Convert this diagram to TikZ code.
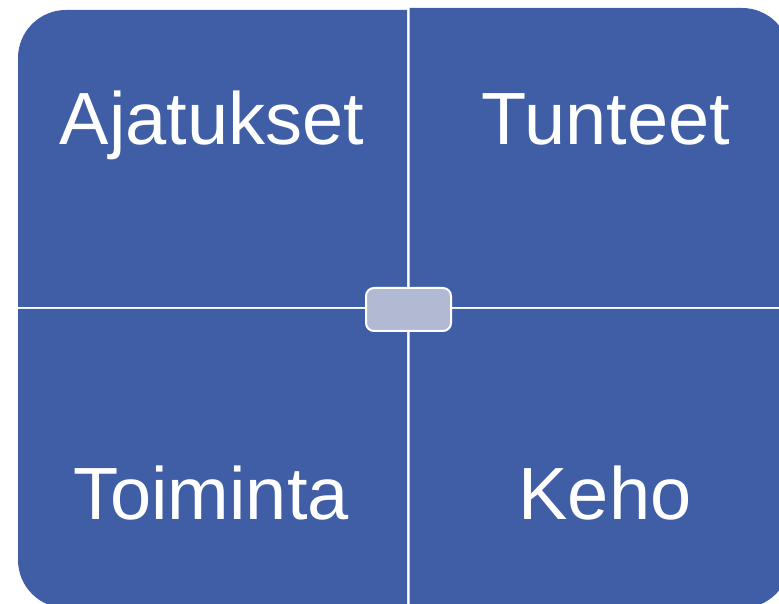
\documentclass[tikz,border=0pt]{standalone}
\usepackage{fontspec}
\setmainfont{Liberation Sans}
\definecolor{quadblue}{RGB}{63,94,166}
\definecolor{hubfill}{RGB}{177,185,211}
\tikzset{
  quad/.style={fill=quadblue},
  lbl/.style={text=white, anchor=base, inner sep=0pt, font=\fontsize{74}{80}\selectfont},
  hub/.style={draw=white, line width=2pt, fill=hubfill, rounded corners=8pt,
              minimum width=85pt, minimum height=43pt, inner sep=0pt}
}
\begin{document}
\begin{tikzpicture}[x=1pt,y=1pt]
\useasboundingbox (0,0) rectangle (779,604);
\clip (0,0) rectangle (779,604);
% quadrants
\fill[quad] (407,297) -- (18,297) -- (18,546) arc[start angle=180,end angle=90,radius=48] -- (407,594) -- cycle;
\fill[quad] (409.5,297) -- (409.5,596) -- (742,596) arc[start angle=90,end angle=0,radius=48] -- (790,297) -- cycle;
\fill[quad] (407,295) -- (18,295) -- (18,44) arc[start angle=180,end angle=270,radius=48] -- (407,-4) -- cycle;
\fill[quad] (409.5,295) -- (409.5,-4) -- (742,-4) arc[start angle=270,end angle=360,radius=48] -- (790,295) -- cycle;
% labels
\node[lbl] (ajatukset) at (212,459) {Ajatukset};
\node[lbl] (tunteet) at (606,459) {Tunteet};
\node[lbl] (toiminta) at (211,84) {Toiminta};
\node[lbl] (keho) at (605,84) {Keho};
% centre
\node[hub] (hub) at (408.5,294.5) {};
\end{tikzpicture}
\end{document}
